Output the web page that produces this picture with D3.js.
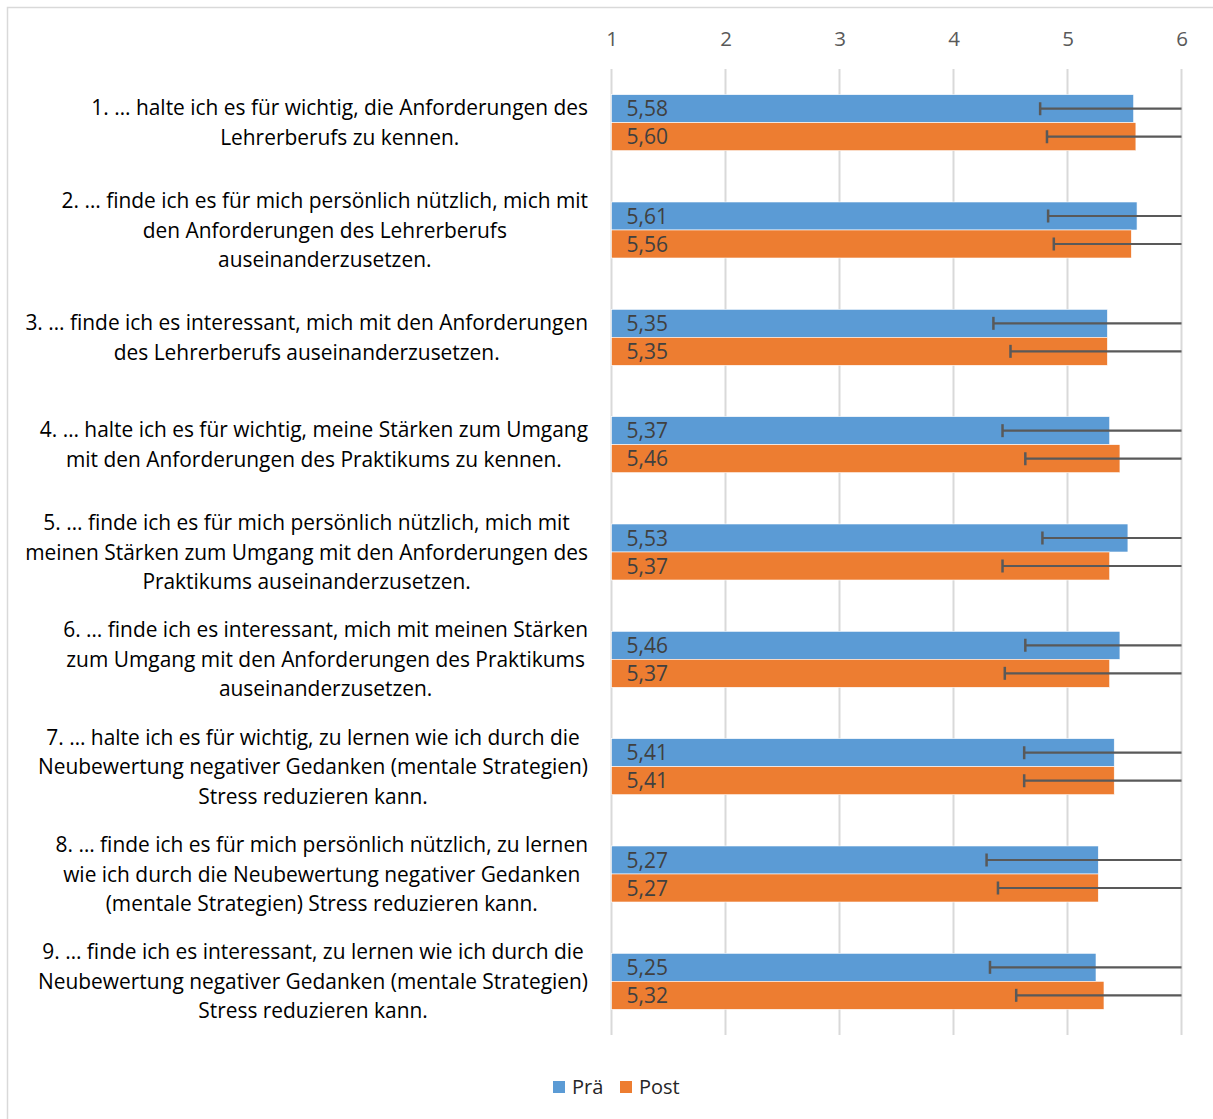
<!DOCTYPE html>
<html>
<head>
<meta charset="utf-8">
<script src="https://cdn.jsdelivr.net/npm/d3@7"></script>
<style>
  html, body { margin: 0; padding: 0; background: #fff; }
  svg { display: block; }
</style>
</head>
<body>
<svg id="chart" width="1213" height="1119"></svg>
<script>
const categories = [
  ["1. … halte ich es für wichtig, die Anforderungen des", "Lehrerberufs zu kennen."],
  ["2. … finde ich es für mich persönlich nützlich, mich mit", "den Anforderungen des Lehrerberufs", "auseinanderzusetzen."],
  ["3. … finde ich es interessant, mich mit den Anforderungen", "des Lehrerberufs auseinanderzusetzen."],
  ["4. … halte ich es für wichtig, meine Stärken zum Umgang", "mit den Anforderungen des Praktikums zu kennen."],
  ["5. … finde ich es für mich persönlich nützlich, mich mit", "meinen Stärken zum Umgang mit den Anforderungen des", "Praktikums auseinanderzusetzen."],
  ["6. … finde ich es interessant, mich mit meinen Stärken", "zum Umgang mit den Anforderungen des Praktikums", "auseinanderzusetzen."],
  ["7. … halte ich es für wichtig, zu lernen wie ich durch die", "Neubewertung negativer Gedanken (mentale Strategien)", "Stress reduzieren kann."],
  ["8. … finde ich es für mich persönlich nützlich, zu lernen", "wie ich durch die Neubewertung negativer Gedanken", "(mentale Strategien) Stress reduzieren kann."],
  ["9. … finde ich es interessant, zu lernen wie ich durch die", "Neubewertung negativer Gedanken (mentale Strategien)", "Stress reduzieren kann."]
];
const seriesNames = ["Prä", "Post"];
const praValues  = [5.58, 5.61, 5.35, 5.37, 5.53, 5.46, 5.41, 5.27, 5.25];
const postValues = [5.60, 5.56, 5.35, 5.46, 5.37, 5.37, 5.41, 5.27, 5.32];
const praErrors  = [0.82, 0.78, 1.00, 0.94, 0.75, 0.83, 0.79, 0.98, 0.93];
const postErrors = [0.78, 0.68, 0.85, 0.83, 0.94, 0.92, 0.79, 0.88, 0.77];
const tickValues = [1, 2, 3, 4, 5, 6];
const colors = ["#5b9bd5", "#ed7d31"];

const svg = d3.select("#chart");
const W = 1213, H = 1119;

// chart border
svg.append("rect")
  .attr("x", 7.5).attr("y", 7.5)
  .attr("width", W + 10).attr("height", H + 10)
  .attr("fill", "none").attr("stroke", "#d9d9d9").attr("stroke-width", 1.5);

const x = d3.scaleLinear().domain([1, 6]).range([611.5, 1181.5]);
const idx = categories.map((_, i) => i);
const y = d3.scaleBand().domain(idx).range([69, 1035]).paddingInner(0).paddingOuter(0);
const bw = y.bandwidth();
const barH = bw / (2 + 1.833);
const ySub = d3.scaleBand().domain([0, 1]).range([(bw - 2 * barH) / 2, (bw + 2 * barH) / 2]);

// gridlines
svg.append("g").selectAll("line").data(tickValues).join("line")
  .attr("x1", d => x(d)).attr("x2", d => x(d))
  .attr("y1", 69).attr("y2", 1035)
  .attr("stroke", "#d9d9d9").attr("stroke-width", 2);

// top axis
const axis = d3.axisTop(x).tickValues(tickValues).tickSize(0).tickPadding(0).tickFormat(d3.format("d"));
const axG = svg.append("g").attr("transform", "translate(0,46)").call(axis);
axG.select(".domain").remove();
axG.selectAll("text")
  .attr("font-family", "'Open Sans', sans-serif")
  .attr("font-size", 20.5)
  .attr("fill", "#595959");

const rows = [];
idx.forEach(i => {
  rows.push({ i, s: 0, v: praValues[i], e: praErrors[i] });
  rows.push({ i, s: 1, v: postValues[i], e: postErrors[i] });
});

const clip = svg.append("defs").append("clipPath").attr("id", "plotclip");
clip.append("rect").attr("x", x(1)).attr("y", 60).attr("width", x(6) - x(1)).attr("height", 990);

// bars
svg.append("g").selectAll("rect").data(rows).join("rect")
  .attr("x", x(1))
  .attr("y", d => y(d.i) + ySub(d.s))
  .attr("width", d => x(d.v) - x(1))
  .attr("height", ySub.bandwidth())
  .attr("fill", d => colors[d.s])
  .attr("stroke", "#ffffff").attr("stroke-width", 0.6);

// error bars
const eg = svg.append("g").attr("clip-path", "url(#plotclip)");
rows.forEach(d => {
  const cy = y(d.i) + ySub(d.s) + ySub.bandwidth() / 2;
  const lo = x(d.v - d.e), hi = x(d.v + d.e);
  eg.append("line").attr("x1", lo).attr("x2", hi).attr("y1", cy).attr("y2", cy)
    .attr("stroke", "#595959").attr("stroke-width", 2.2);
  eg.append("line").attr("x1", lo).attr("x2", lo).attr("y1", cy - 6.5).attr("y2", cy + 6.5)
    .attr("stroke", "#595959").attr("stroke-width", 2.5);
});

// value labels
const fmt = v => v.toFixed(2).replace(".", ",");
svg.append("g").selectAll("text").data(rows).join("text")
  .attr("x", x(1) + 15)
  .attr("y", d => y(d.i) + ySub(d.s) + ySub.bandwidth() / 2)
  .attr("dy", "0.36em")
  .attr("font-family", "'Open Sans', sans-serif")
  .attr("font-size", 21)
  .attr("fill", "#404040")
  .text(d => fmt(d.v));

// category labels
const labelFont = "'Open Sans', sans-serif";
const targetW = 563; // widest line width
const probe = svg.append("text").attr("font-family", labelFont).attr("font-size", 20)
  .text(categories[2][0]);
const pw = probe.node().getComputedTextLength();
probe.remove();
const labelSize = 20 * targetW / pw;
const lineH = 29.5;
const rightEdge = 588;

const lg = svg.append("g");
categories.forEach((lines, i) => {
  const t = lg.append("text")
    .attr("font-family", labelFont)
    .attr("font-size", labelSize)
    .attr("fill", "#000")
    .attr("text-anchor", "middle");
  const cy = y(i) + bw / 2;
  const n = lines.length;
  lines.forEach((ln, k) => {
    t.append("tspan").attr("x", 0).attr("y", cy + (k - (n - 1) / 2) * lineH).attr("dy", "0.36em").text(ln);
  });
  let maxW = 0;
  t.selectAll("tspan").each(function () { maxW = Math.max(maxW, this.getComputedTextLength()); });
  t.selectAll("tspan").attr("x", rightEdge - maxW / 2);
});

// legend
const leg = svg.append("g");
const legItems = [{ n: seriesNames[0], c: colors[0], x: 553 }, { n: seriesNames[1], c: colors[1], x: 620 }];
legItems.forEach(it => {
  leg.append("rect").attr("x", it.x).attr("y", 1081).attr("width", 12).attr("height", 12).attr("fill", it.c);
  leg.append("text").attr("x", it.x + 19).attr("y", 1087).attr("dy", "0.36em")
    .attr("font-family", labelFont).attr("font-size", 20).attr("fill", "#262626").text(it.n);
});
</script>
</body>
</html>
